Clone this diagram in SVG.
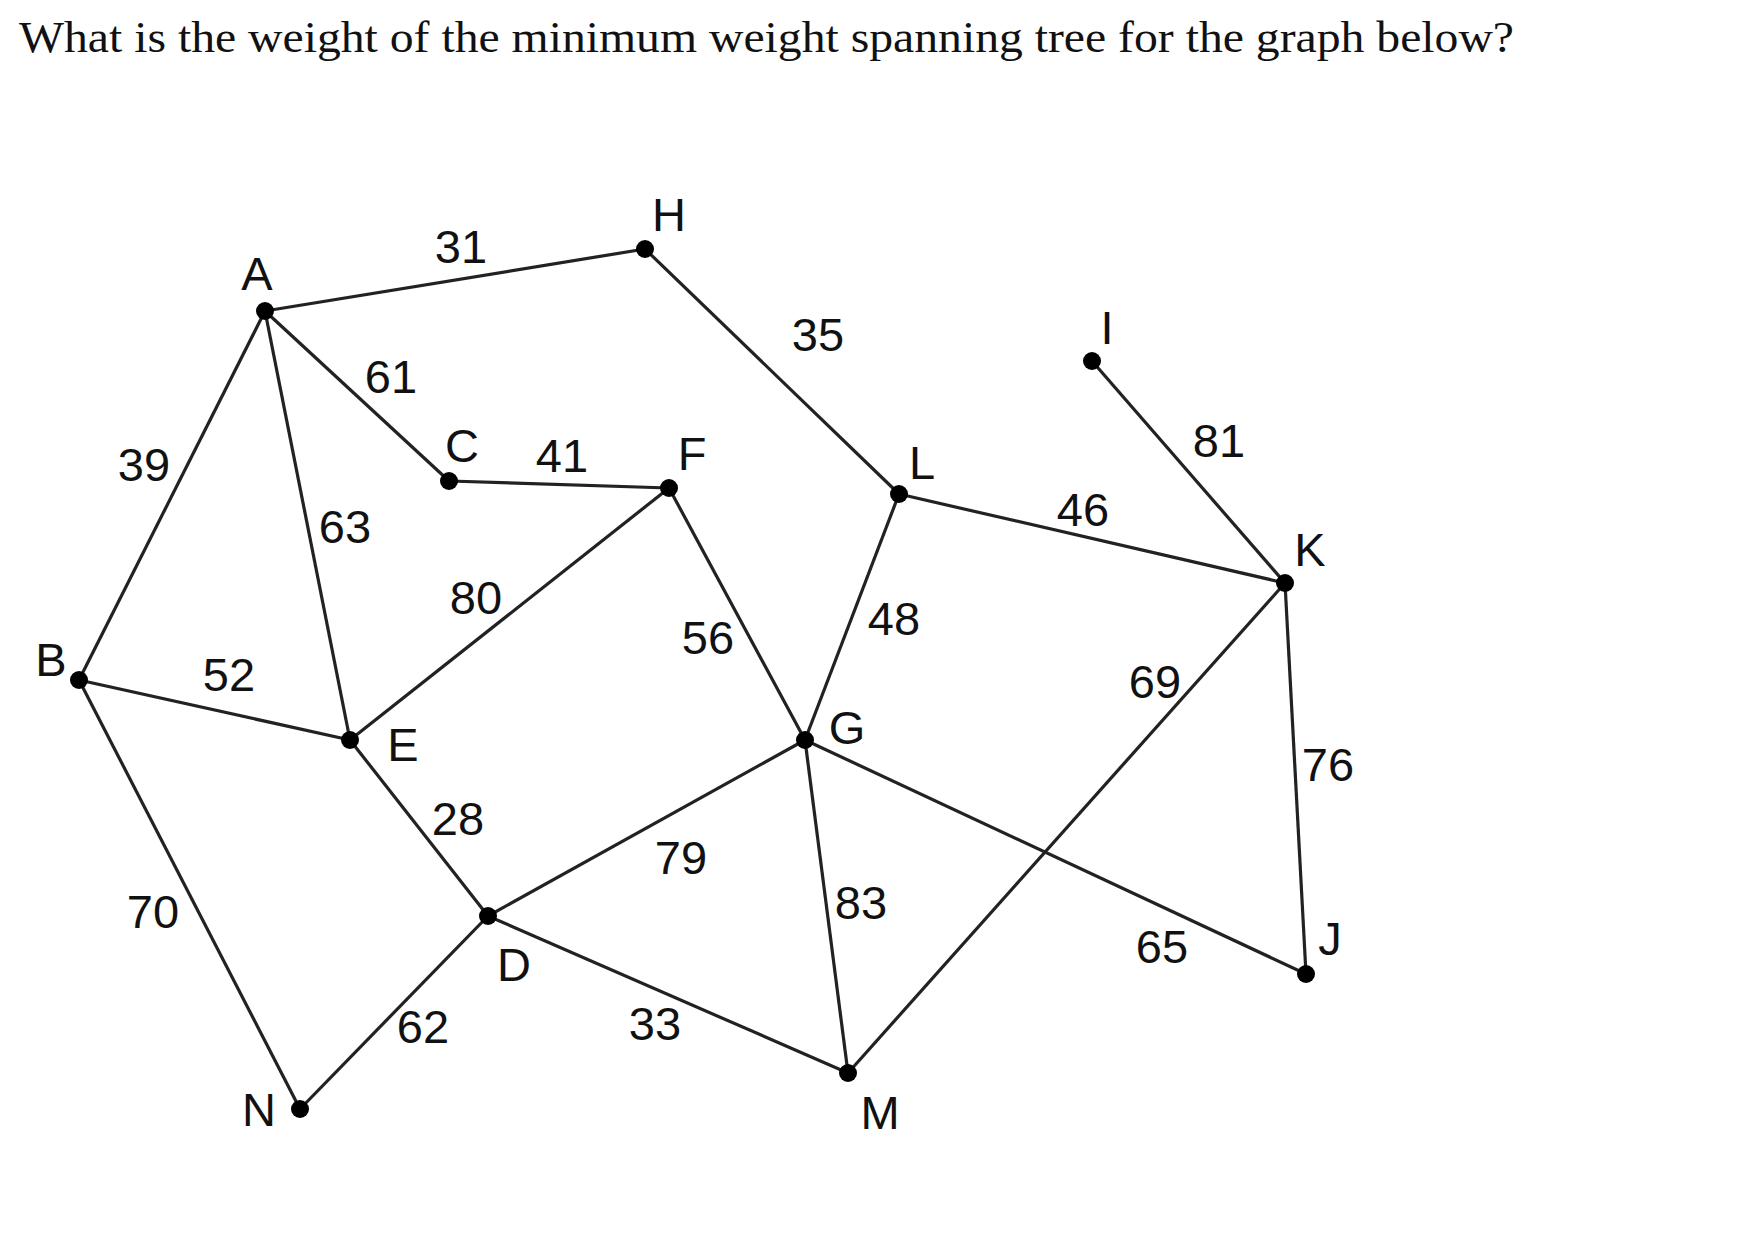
<svg xmlns="http://www.w3.org/2000/svg" width="1763" height="1234" viewBox="0 0 1763 1234">
<style>
.e{stroke:#222;stroke-width:3.2;fill:none}
.n{fill:#000}
.t{font-family:"Liberation Sans",Arial,sans-serif;font-size:47px;fill:#111;text-anchor:middle}
</style>
<rect width="1763" height="1234" fill="#fff"/>
<text x="19" y="52" font-family="Liberation Serif,serif" font-size="44" fill="#111" textLength="1495" lengthAdjust="spacingAndGlyphs">What is the weight of the minimum weight spanning tree for the graph below?</text>
<g id="edges">
<line class="e" x1="265" y1="311" x2="645" y2="249"/><text class="t" x="461" y="263">31</text>
<line class="e" x1="265" y1="311" x2="449" y2="481"/><text class="t" x="391" y="393">61</text>
<line class="e" x1="265" y1="311" x2="79" y2="680"/><text class="t" x="144" y="481">39</text>
<line class="e" x1="265" y1="311" x2="350" y2="740"/><text class="t" x="345" y="543">63</text>
<line class="e" x1="645" y1="249" x2="899" y2="494"/><text class="t" x="818" y="351">35</text>
<line class="e" x1="449" y1="481" x2="669" y2="488"/><text class="t" x="562" y="472">41</text>
<line class="e" x1="669" y1="488" x2="350" y2="740"/><text class="t" x="476" y="614">80</text>
<line class="e" x1="669" y1="488" x2="805" y2="740"/><text class="t" x="708" y="654">56</text>
<line class="e" x1="899" y1="494" x2="805" y2="740"/><text class="t" x="894" y="635">48</text>
<line class="e" x1="899" y1="494" x2="1285" y2="583"/><text class="t" x="1083" y="526">46</text>
<line class="e" x1="1092" y1="361" x2="1285" y2="583"/><text class="t" x="1219" y="457">81</text>
<line class="e" x1="1285" y1="583" x2="848" y2="1073"/><text class="t" x="1155" y="698">69</text>
<line class="e" x1="1285" y1="583" x2="1306" y2="974"/><text class="t" x="1328" y="781">76</text>
<line class="e" x1="79" y1="680" x2="350" y2="740"/><text class="t" x="229" y="691">52</text>
<line class="e" x1="79" y1="680" x2="300" y2="1109"/><text class="t" x="153" y="928">70</text>
<line class="e" x1="350" y1="740" x2="488" y2="916"/><text class="t" x="458" y="835">28</text>
<line class="e" x1="488" y1="916" x2="805" y2="740"/><text class="t" x="681" y="874">79</text>
<line class="e" x1="488" y1="916" x2="848" y2="1073"/><text class="t" x="655" y="1040">33</text>
<line class="e" x1="488" y1="916" x2="300" y2="1109"/><text class="t" x="423" y="1043">62</text>
<line class="e" x1="805" y1="740" x2="848" y2="1073"/><text class="t" x="861" y="919">83</text>
<line class="e" x1="805" y1="740" x2="1306" y2="974"/><text class="t" x="1162" y="963">65</text>
</g>
<g id="A"><circle class="n" cx="265" cy="311" r="9"/><text class="t" x="257" y="290">A</text></g>
<g id="H"><circle class="n" cx="645" cy="249" r="9"/><text class="t" x="669" y="231">H</text></g>
<g id="I"><circle class="n" cx="1092" cy="361" r="9"/><text class="t" x="1107" y="344">I</text></g>
<g id="C"><circle class="n" cx="449" cy="481" r="9"/><text class="t" x="462" y="462">C</text></g>
<g id="F"><circle class="n" cx="669" cy="488" r="9"/><text class="t" x="692" y="470">F</text></g>
<g id="L"><circle class="n" cx="899" cy="494" r="9"/><text class="t" x="922" y="479">L</text></g>
<g id="K"><circle class="n" cx="1285" cy="583" r="9"/><text class="t" x="1310" y="566">K</text></g>
<g id="B"><circle class="n" cx="79" cy="680" r="9"/><text class="t" x="51" y="676">B</text></g>
<g id="E"><circle class="n" cx="350" cy="740" r="9"/><text class="t" x="403" y="761">E</text></g>
<g id="G"><circle class="n" cx="805" cy="740" r="9"/><text class="t" x="847" y="744">G</text></g>
<g id="D"><circle class="n" cx="488" cy="916" r="9"/><text class="t" x="514" y="981">D</text></g>
<g id="M"><circle class="n" cx="848" cy="1073" r="9"/><text class="t" x="880" y="1129">M</text></g>
<g id="N"><circle class="n" cx="300" cy="1109" r="9"/><text class="t" x="259" y="1126">N</text></g>
<g id="J"><circle class="n" cx="1306" cy="974" r="9"/><text class="t" x="1330" y="955">J</text></g>
</svg>
